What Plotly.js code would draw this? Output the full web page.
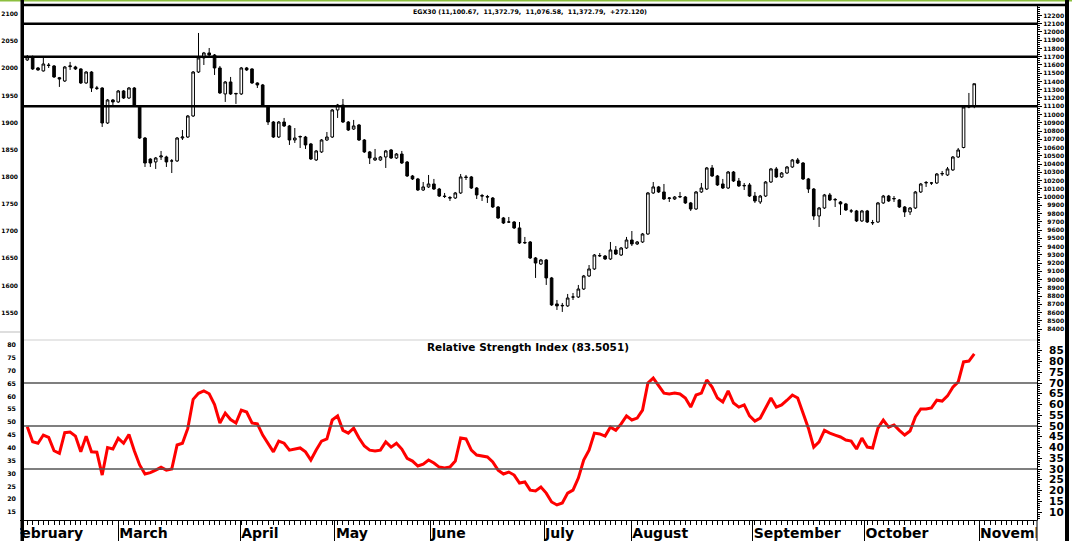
<!DOCTYPE html>
<html><head><meta charset="utf-8">
<script src="https://cdn.plot.ly/plotly-3.0.1.min.js"></script>
<style>html,body{margin:0;padding:0;background:#fff;overflow:hidden}#chart{width:1072px;height:541px}</style>
</head><body><div id="chart"></div>
<script>
const openP = [11661,11697,11564,11528,11600,11588,11446,11406,11580,11576,11552,11382,11515,11315,11321,10897,11176,11152,11285,11200,
11321,11103,10715,10460,10425,10485,10485,10437,10437,10715,10727,10982,11515,11685,11746,11721,11564,11249,11394,11249,
11249,11564,11552,11382,11358,11103,10909,10727,10909,10861,10691,10727,10727,10643,10449,10546,10691,10727,11055,11115,
10909,10824,10873,10691,10546,10449,10449,10485,10570,10473,10521,10424,10255,10219,10085,10122,10158,10097,10012,9994,
9988,10049,10243,10243,10109,10018,10006,9988,9879,9746,9697,9697,9625,9443,9455,9261,9188,9237,9019,8704,
8680,8680,8788,8788,8885,9043,9128,9285,9285,9249,9358,9297,9382,9479,9431,9455,9552,10049,10122,10061,
9982,9976,10000,10000,9928,9855,10061,10097,10352,10255,10158,10109,10303,10194,10134,10146,10012,9940,10012,10182,
10340,10243,10291,10364,10449,10412,10219,10097,9770,9867,10025,9964,9940,9916,9831,9831,9710,9831,9685,9697,
9928,10012,9976,9964,9879,9819,9867,10061,10170,10170,10170,10279,10267,10328,10485,10600,11090,11100.67];
const highP = [11721,11715,11576,11709,11624,11600,11455,11588,11637,11590,11560,11525,11525,11346,11330,11188,11188,11297,11297,11333,
11333,11110,10727,10470,10485,10558,10500,10460,10727,10812,10994,11527,11988,11758,11806,11733,11588,11406,11455,11261,
11576,11576,11560,11390,11370,11110,10921,10921,10958,10873,10836,10745,10740,10655,10570,10703,10788,11067,11128,11188,
10921,10934,10885,10703,10558,10582,10497,10570,10582,10533,10558,10436,10267,10231,10182,10267,10219,10110,10049,10012,
10061,10279,10267,10255,10121,10037,10025,10000,9891,9758,9758,9709,9697,9516,9467,9273,9249,9249,9031,8752,
8716,8825,8837,8934,9055,9176,9309,9321,9297,9455,9406,9394,9516,9588,9467,9564,10061,10182,10134,10158,
10000,10012,10061,10012,9940,10073,10170,10364,10388,10267,10219,10315,10315,10231,10170,10170,10061,10025,10194,10352,
10364,10303,10376,10461,10473,10424,10231,10109,9879,10037,10049,9988,9952,9928,9855,9843,9843,9843,9722,9940,
10025,10025,10012,9976,9891,9879,10073,10170,10194,10182,10291,10315,10364,10497,10594,11103,11261,11372.79];
const lowP = [11649,11540,11530,11520,11564,11443,11334,11394,11540,11540,11370,11372,11273,11297,10849,10885,11115,11140,11188,11188,
11091,10703,10364,10364,10340,10449,10364,10291,10425,10691,10715,10970,11503,11600,11709,11479,11249,11152,11237,11128,
11237,11528,11370,11321,11091,10873,10715,10715,10849,10631,10655,10594,10582,10449,10437,10534,10679,10715,10958,10897,
10800,10812,10679,10534,10400,10437,10437,10352,10461,10461,10400,10243,10206,10073,10073,10110,10085,10000,9988,9952,
9976,10037,10206,10097,9976,9952,9928,9867,9734,9673,9685,9612,9431,9431,9249,9019,9176,8934,8680,8631,
8607,8668,8752,8776,8873,9031,9116,9273,9237,9237,9297,9285,9370,9406,9418,9443,9540,10037,10049,9964,
9940,9964,9988,9916,9831,9843,10049,10085,10243,10134,10097,10097,10182,10122,10085,10000,9928,9916,10000,10170,
10231,10231,10279,10352,10400,10206,10049,9722,9637,9855,9952,9879,9782,9831,9806,9697,9697,9685,9661,9685,
9916,9940,9940,9867,9758,9782,9855,10049,10122,10146,10158,10255,10255,10316,10473,10590,11076,11076.58];
const closeP = [11697,11552,11540,11612,11594,11455,11431,11576,11588,11552,11382,11515,11321,11321,10897,11176,11152,11285,11200,11321,
11103,10715,10412,10412,10473,10497,10425,10437,10715,10727,10982,11515,11685,11746,11721,11564,11261,11394,11249,11255,
11564,11540,11382,11358,11103,10909,10727,10909,10861,10691,10715,10733,10631,10461,10558,10691,10727,11055,11115,10909,
10812,10861,10691,10546,10473,10473,10485,10558,10473,10521,10412,10255,10219,10085,10122,10158,10097,10012,10006,9988,
10049,10243,10237,10109,10025,10012,10000,9879,9746,9685,9697,9625,9443,9449,9261,9200,9237,9019,8692,8680,
8686,8776,8788,8885,9043,9128,9297,9291,9249,9358,9309,9382,9479,9431,9455,9552,10049,10122,10061,9976,
9988,10000,10006,9928,9855,10061,10109,10352,10255,10146,10109,10303,10194,10134,10140,10012,9952,10012,10182,10340,
10243,10291,10364,10449,10412,10219,10097,9770,9867,10025,9964,9970,9916,9843,9831,9710,9831,9697,9691,9928,
10012,9952,9982,9879,9819,9867,10061,10158,10176,10170,10279,10285,10340,10485,10570,11091,11100,11372.79];
const rsi = [49.7,42.7,42,45.8,44.7,38.5,37.3,46.9,47.2,45.3,38,45.3,38,37.8,27.2,40,39.3,44.3,42,46.1,
38.5,31.9,27.7,28.3,29.5,30.8,29.5,30,41.2,42,48.9,62.4,65.2,66.3,65,60,51.4,56,53,51.4,
57.4,56.5,51.4,51,45.8,41.6,38,43,42,38.8,39.3,39.8,38,34.2,38.8,43,44,52.8,54.7,48,
46.7,49,44.4,40.7,38.8,38.4,38.8,42.6,40.2,42,39.3,35,33.7,31.4,32.3,34.2,32.8,30.9,30.5,30.9,
33.7,44.4,44,38.8,36.5,36,35.6,33.3,29.5,27.7,28.6,27.2,23.5,24,20.2,19.8,21.6,18.8,14.7,13.3,
14.2,18.8,20.2,25.8,34.2,38.8,46.7,46.3,45.3,49.5,48,51,54.7,52.8,53.7,57.4,70,72.3,69,65.3,
64.9,65.3,64.9,63,58.8,64.4,65.3,71.4,68.1,63,61.2,66.3,60.7,58.8,59.8,54.7,52.3,53.7,58.4,63,
58.8,59.8,62,64.4,63,56,49,40.2,42.6,48,46.7,45.8,44.9,43.5,43,39.3,44.4,40.2,39.8,49,
52.8,49.5,50.5,48,45.8,47.7,54.2,57.9,57.9,58.4,62,61.6,64,68.1,70.5,79.8,80.2,83.5051];
const monthNames = ["February","March","April","May","June","July","August","September","October","November"];
const monthStarts = [-2.0,18.0,40.8,58.5,76.3,97.6,113.9,136.6,157.5,178.9];
const priceLevels = [12100, 11700, 11100];
const rsiLevels = [70, 50, 30];
const priceTicks = []; for (let v = 8400; v <= 12200; v += 100) priceTicks.push(v);
const leftPriceTicks = []; for (let v = 1550; v <= 2100; v += 50) leftPriceTicks.push(v);
const rsiTicks = []; for (let v = 10; v <= 85; v += 5) rsiTicks.push(v);
const rsiLeftTicks = []; for (let v = 15; v <= 80; v += 5) rsiLeftTicks.push(v);

const idx = openP.map((_, i) => i + 1);
const n = idx.length;
const fmt = v => v.toLocaleString('en-US', {minimumFractionDigits: 2, maximumFractionDigits: 2});
const chg = closeP[n-1] - openP[n-1];
const mainTitle = `EGX30 (${fmt(openP[n-1])},  ${fmt(highP[n-1])},  ${fmt(lowP[n-1])},  ${fmt(closeP[n-1])},  ${chg >= 0 ? '+' : ''}${chg.toFixed(3)})`;
const rsiTitle = `Relative Strength Index (${rsi[n-1].toFixed(4)})`;

const W = 1072, H = 541;
const mL = 0, mR = 35, mT = 5, mB = 21;
const pw = W - mL - mR, ph = H - mT - mB;
const px = x => x / pw;              // pixel x -> paper
const py = y => (H - mB - y) / ph;   // pixel y -> paper
const split = py(340);
const F = "DejaVu Sans";
const step = 5.35, firstPx = 27.3;

const traces = [
  {type: 'candlestick', x: idx, open: openP, high: highP, low: lowP, close: closeP,
   xaxis: 'x', yaxis: 'y', whiskerwidth: 0, hoverinfo: 'skip', showlegend: false,
   increasing: {line: {color: '#000', width: 1}, fillcolor: '#ffffff'},
   decreasing: {line: {color: '#000', width: 1}, fillcolor: '#000000'}},
  {type: 'scatter', mode: 'lines', x: idx, y: rsi, xaxis: 'x', yaxis: 'y2',
   line: {color: '#ff0000', width: 3}, hoverinfo: 'skip', showlegend: false},
  {type: 'scatter', mode: 'markers', x: [idx[0]], y: [leftPriceTicks[0]], xaxis: 'x', yaxis: 'y3',
   marker: {opacity: 0}, hoverinfo: 'skip', showlegend: false},
  {type: 'scatter', mode: 'markers', x: [idx[0]], y: [rsiLeftTicks[0]], xaxis: 'x', yaxis: 'y4',
   marker: {opacity: 0}, hoverinfo: 'skip', showlegend: false}
];

const shapes = [];
priceLevels.forEach(v => shapes.push({type: 'line', xref: 'paper', yref: 'y', x0: px(24), x1: 1, y0: v, y1: v, line: {color: '#000', width: 2.5}}));
rsiLevels.forEach(v => shapes.push({type: 'line', xref: 'paper', yref: 'y2', x0: px(24), x1: 1, y0: v, y1: v, line: {color: '#555', width: 1.5}}));
shapes.push({type: 'line', xref: 'paper', yref: 'paper', x0: px(24), x1: 1, y0: split, y1: split, line: {color: '#cfcfcf', width: 1}});
shapes.push({type: 'line', xref: 'paper', yref: 'paper', x0: px(0), x1: px(20), y0: py(332), y1: py(332), line: {color: '#bdbdbd', width: 1}});
shapes.push({type: 'line', xref: 'paper', yref: 'paper', x0: px(24), x1: px(1069), y0: py(5), y1: py(5), line: {color: '#000', width: 2.5}});
shapes.push({type: 'line', xref: 'paper', yref: 'paper', x0: px(0), x1: px(1072), y0: py(0.5), y1: py(0.5), line: {color: '#8cbf3f', width: 2}});
shapes.push({type: 'rect', xref: 'paper', yref: 'paper', x0: px(0), x1: px(20), y0: py(541), y1: py(518.5), fillcolor: '#fff', line: {width: 0}});
shapes.push({type: 'rect', xref: 'paper', yref: 'paper', x0: px(1036.5), x1: px(1065), y0: py(541), y1: py(520.5), fillcolor: '#fff', line: {width: 0}});
shapes.push({type: 'line', xref: 'paper', yref: 'paper', x0: px(1037), x1: px(1037), y0: py(541), y1: py(520), line: {color: '#000', width: 1}});
shapes.push({type: 'rect', xref: 'paper', yref: 'paper', x0: px(20.5), x1: px(24), y0: py(541), y1: py(0), fillcolor: '#000', line: {width: 0}});
shapes.push({type: 'rect', xref: 'paper', yref: 'paper', x0: px(1065), x1: px(1069), y0: py(541), y1: py(0), fillcolor: '#000', line: {width: 0}});

const annotations = [
  {xref: 'paper', yref: 'paper', x: px(530), y: py(12), text: mainTitle, showarrow: false, xanchor: 'center', yanchor: 'middle',
   font: {family: F, size: 6.3, color: '#000', weight: 'bold'}},
  {xref: 'paper', yref: 'paper', x: px(528), y: py(346.5), text: rsiTitle, showarrow: false, xanchor: 'center', yanchor: 'middle',
   font: {family: F, size: 10.5, color: '#000', weight: 'bold'}}
];

const layout = {
  width: W, height: H, margin: {l: mL, r: mR, t: mT, b: mB}, paper_bgcolor: '#fff', plot_bgcolor: '#fff',
  showlegend: false, hovermode: false, dragmode: false,
  xaxis: {range: [1 - firstPx/step, 1 + (1037 - firstPx)/step], anchor: 'y2', rangeslider: {visible: false},
    tickmode: 'array', tickvals: monthStarts, ticktext: monthNames, ticks: 'outside', ticklen: 21, tickwidth: 1, tickcolor: '#000',
    ticklabelposition: 'outside right', ticklabelstandoff: 0,
    tickfont: {family: F, size: 14, color: '#000', weight: 'bold'},
    showline: true, linecolor: '#000', linewidth: 1, showgrid: false, zeroline: false,
    minor: {dtick: 1, tick0: 0, ticks: 'outside', ticklen: 4, tickcolor: '#000', tickwidth: 1, showgrid: false}},
  yaxis: {domain: [split, 1], range: [8267, 12327], side: 'right', anchor: 'x',
    tickmode: 'array', tickvals: priceTicks, ticktext: priceTicks.map(v => String(v).padStart(5, '\u2007')),
    ticks: 'outside', ticklen: 4, tickcolor: '#000', tickfont: {family: F, size: 6, color: '#000', weight: 'bold'},
    minor: {dtick: 25, tick0: 0, ticks: 'outside', ticklen: 2, tickcolor: '#000', showgrid: false},
    showline: true, linecolor: '#000', linewidth: 1, showgrid: false, zeroline: false},
  yaxis2: {domain: [0, split], range: [6.3, 90], side: 'right', anchor: 'x',
    tickmode: 'array', tickvals: rsiTicks, ticks: 'outside', ticklen: 4, tickcolor: '#000', ticklabelstandoff: 5,
    tickfont: {family: F, size: 10.5, color: '#000', weight: 'bold'},
    minor: {dtick: 1, tick0: 0, ticks: 'outside', ticklen: 2, tickcolor: '#000', showgrid: false},
    showline: true, linecolor: '#000', linewidth: 1, showgrid: false, zeroline: false},
  yaxis3: {overlaying: 'y', side: 'left', anchor: 'free', position: px(24), range: [1499.6, 2116.6],
    tickmode: 'array', tickvals: leftPriceTicks, ticktext: leftPriceTicks.map(String), ticks: '', ticklabelstandoff: 6,
    tickfont: {family: F, size: 6, color: '#000', weight: 'bold'},
    showline: false, showgrid: false, zeroline: false},
  yaxis4: {overlaying: 'y2', side: 'left', anchor: 'free', position: px(24), range: [11.9, 81.9],
    tickmode: 'array', tickvals: rsiLeftTicks, ticktext: rsiLeftTicks.map(String), ticks: '', ticklabelstandoff: 8,
    tickfont: {family: F, size: 6.3, color: '#000', weight: 'bold'},
    showline: false, showgrid: false, zeroline: false},
  shapes: shapes, annotations: annotations
};

Plotly.newPlot('chart', traces, layout, {staticPlot: true, displayModeBar: false});
</script></body></html>
